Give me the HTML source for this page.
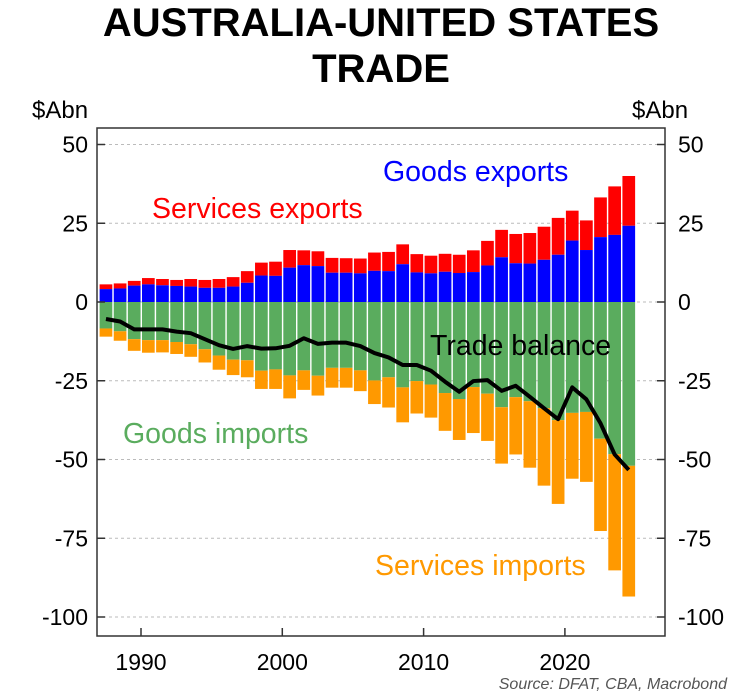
<!DOCTYPE html>
<html><head><meta charset="utf-8"><style>
body{margin:0;background:#fff;font-family:"Liberation Sans",sans-serif}
svg{display:block}
</style></head><body>
<svg id="c" width="748" height="698" xmlns="http://www.w3.org/2000/svg" font-family="Liberation Sans, sans-serif">
<text x="381" y="36" text-anchor="middle" font-size="40" font-weight="bold">AUSTRALIA-UNITED STATES</text>
<text x="381" y="82" text-anchor="middle" font-size="40" font-weight="bold">TRADE</text>
<text x="32" y="118" font-size="24">$Abn</text>
<text x="632" y="118" font-size="24">$Abn</text>
<g id="grid"></g><g id="bars"></g><g id="line"></g><g id="axes"></g>
<text x="383" y="181" font-size="28.5" fill="#0000ff">Goods exports</text>
<text x="152" y="218" font-size="28.5" fill="#ff0000">Services exports</text>
<text x="430" y="355" font-size="28.5" fill="#000">Trade balance</text>
<text x="123" y="443" font-size="28.5" fill="#5aac5e">Goods imports</text>
<text x="375" y="575" font-size="28.5" fill="#ff9900">Services imports</text>
<text x="727" y="689" text-anchor="end" font-size="16" font-style="italic" fill="#555">Source: DFAT, CBA, Macrobond</text>
</svg>
<script>
const years=[1987,1988,1989,1990,1991,1992,1993,1994,1995,1996,1997,1998,1999,2000,2001,2002,2003,2004,2005,2006,2007,2008,2009,2010,2011,2012,2013,2014,2015,2016,2017,2018,2019,2020,2021,2022,2023,2024];
const goodsExports=[4.1,4.3,5.2,5.6,5.3,5.1,4.9,4.5,4.5,4.9,6.1,8.4,8.3,10.9,11.7,11.4,9.3,9.3,9.1,9.9,9.8,12.0,9.4,9.1,9.6,9.2,9.5,11.6,14.2,12.3,12.2,13.4,15.0,19.5,16.5,20.6,21.3,24.2];
const totalExports=[5.6,5.9,6.7,7.6,7.3,7.0,7.3,7.0,7.3,7.9,9.8,12.5,12.8,16.5,16.4,16.1,14.0,13.9,13.8,15.7,15.9,18.3,15.2,14.7,15.3,15.0,16.4,19.4,22.9,21.6,21.9,23.9,26.7,29.0,25.9,33.2,36.7,40.0];
const goodsImports=[-8.4,-9.3,-11.8,-12.1,-12.1,-12.7,-13.4,-15.0,-17.0,-18.3,-18.5,-21.8,-21.4,-23.3,-21.7,-23.4,-20.9,-20.9,-21.7,-24.9,-23.9,-27.1,-25.1,-26.2,-28.9,-30.8,-27.0,-29.1,-33.4,-30.2,-31.5,-33.7,-37.5,-35.2,-34.9,-43.4,-48.3,-52.0];
const totalImports=[-11.0,-12.3,-15.5,-16.1,-16.0,-16.5,-17.4,-19.2,-21.5,-23.2,-23.9,-27.6,-27.6,-30.6,-27.9,-29.7,-27.2,-27.2,-28.3,-32.4,-33.5,-38.2,-35.4,-36.7,-40.9,-43.8,-41.6,-44.1,-51.3,-48.4,-52.6,-58.3,-64.1,-56.1,-57.1,-72.7,-85.2,-93.5];
const balance=[-5.4,-6.2,-8.7,-8.7,-8.7,-9.4,-9.9,-11.8,-13.7,-14.9,-14.0,-14.8,-14.7,-13.9,-11.5,-13.3,-12.9,-12.9,-14.0,-16.2,-17.6,-20.0,-20.0,-21.8,-25.3,-28.5,-25.1,-24.8,-28.2,-26.6,-30.1,-33.7,-37.2,-27.1,-30.9,-38.5,-48.4,-53.3];
const yTicks=[50,25,0,-25,-50,-75,-100];
const xTicks=[1990,2000,2010,2020];
const NS="http://www.w3.org/2000/svg";
const L=97,R=665,T=128,B=636;
const x=v=>141+(v-1990)*14.13;
const y=v=>302-v*3.15;
function mk(p,tag,a){const e=document.createElementNS(NS,tag);for(const k in a)e.setAttribute(k,a[k]);document.getElementById(p).appendChild(e);return e;}
yTicks.forEach(t=>{
 const g=mk('grid','line',{x1:L,x2:R,y1:y(t),y2:y(t),stroke:'#bbb','stroke-dasharray':'3,3','stroke-width':1});
 
 
 const a=mk('axes','text',{x:88,y:y(t)+8,'text-anchor':'end','font-size':23});a.textContent=t;
 
 
 const b=mk('axes','text',{x:678,y:y(t)+8,'font-size':23});b.textContent=t;
 
 
 mk('axes','line',{x1:L,x2:L+8,y1:y(t),y2:y(t),stroke:'#333','stroke-width':1.5});
 mk('axes','line',{x1:R-8,x2:R,y1:y(t),y2:y(t),stroke:'#333','stroke-width':1.5});
});
xTicks.forEach(t=>{
 const a=mk('axes','text',{x:x(t),y:670,'text-anchor':'middle','font-size':23});a.textContent=t;
 
 
 mk('axes','line',{x1:x(t),x2:x(t),y1:B,y2:B-8,stroke:'#333','stroke-width':1.5});
});
const f=mk('axes','rect',{x:L,y:T,width:R-L,height:B-T,fill:'none',stroke:'#333','stroke-width':1.5});


const bw=12.7;
years.forEach((yr,i)=>{
 const x0=x(yr)+1;
 const segs=[[totalExports[i],goodsExports[i],'#ff0000','services-exports-bar'],[goodsExports[i],0,'#0000ff','goods-exports-bar'],[0,goodsImports[i],'#5aac5e','goods-imports-bar'],[goodsImports[i],totalImports[i],'#ff9900','services-imports-bar']];
 segs.forEach(s=>{
  const r=mk('bars','rect',{x:x0,y:y(s[0]),width:bw,height:y(s[1])-y(s[0]),fill:s[2]});
  
  
 });
});
const pts=years.map((yr,i)=>(x(yr)+1+bw/2)+','+y(balance[i])).join(' ');
const pl=mk('line','polyline',{points:pts,fill:'none',stroke:'#000','stroke-width':4,'stroke-linejoin':'round'});


</script>
</body></html>
